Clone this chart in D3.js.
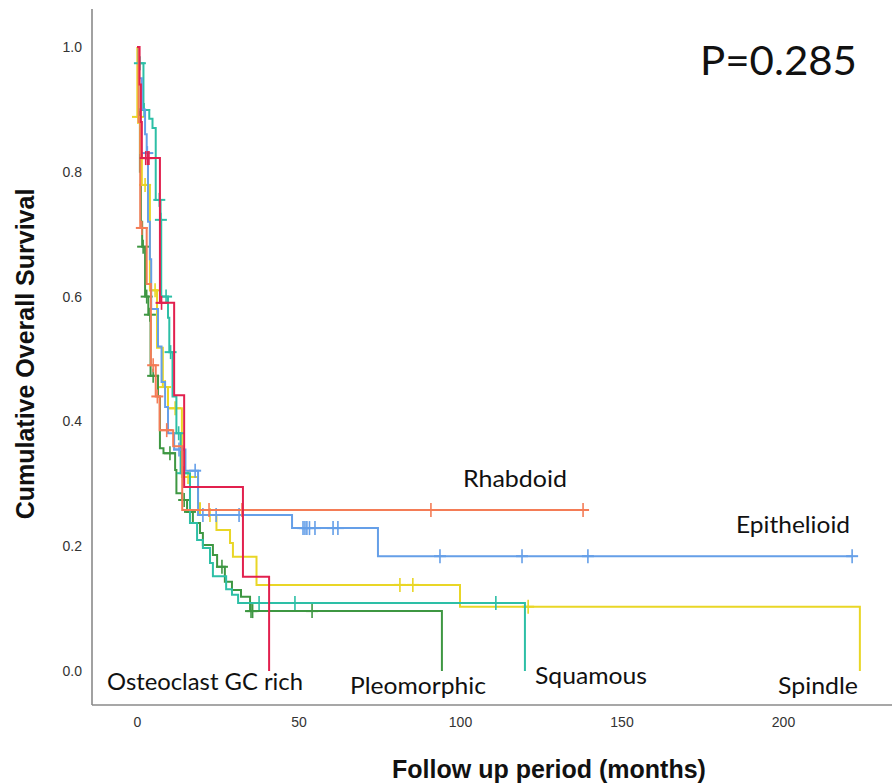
<!DOCTYPE html>
<html>
<head>
<meta charset="utf-8">
<script src="https://cdn.jsdelivr.net/npm/d3@7"></script>
<style>
  body { margin: 0; background: #fff; }
  svg { display: block; }
</style>
</head>
<body>
<svg></svg>
<script>
const svgWidth = 892;
const svgHeight = 784;

// x ticks (months) and y ticks (survival)
const xTicks = [0, 50, 100, 150, 200];
const yTicks = [0, 0.2, 0.4, 0.6, 0.8, 1.0];

// step points [months, survival], plus censored times and last follow-up
const rhabdoidSteps = [[0,1],[0.5,0.88],[1.0,0.71],[3.0,0.62],[4.3,0.49],[5.8,0.44],[7.0,0.386],[11.2,0.36],[14.0,0.258]];
const rhabdoidCensored = [1.5, 5.0, 6.3, 9.2, 22.3, 32.5, 91.0, 138.1];
const rhabdoidEnd = 138.1;

const epithelioidSteps = [[0,1],[0.6,0.95],[1.5,0.90],[2.5,0.86],[3.0,0.83],[3.4,0.72],[4.0,0.66],[4.4,0.58],[6.5,0.52],[7.6,0.463],[8.7,0.423],[9.6,0.381],[11.5,0.355],[15.0,0.321],[18.9,0.25],[48,0.229],[74.6,0.184]];
const epithelioidCensored = [3.2, 13.0, 18.0, 20.4, 24.5, 31.6, 51.4, 52.0, 52.6, 53.4, 55.1, 60.7, 62.2, 93.8, 119.2, 139.6, 221.4];
const epithelioidEnd = 221.4;

const spindleSteps = [[0,1],[0.1,0.888],[1.0,0.83],[1.5,0.779],[4.0,0.61],[6.2,0.518],[8.0,0.455],[9.6,0.421],[13.9,0.311],[18.9,0.269],[19.5,0.25],[24.6,0.226],[28.8,0.205],[29.7,0.183],[37.0,0.138],[100,0.103],[223.8,0]];
const spindleCensored = [0.3, 2.5, 5.6, 8.7, 11.8, 15.8, 22.6, 81.4, 85.4, 121.1];
const spindleEnd = 223.8;

const squamousSteps = [[0,1],[0.5,0.974],[2.0,0.899],[3.8,0.885],[4.8,0.87],[5.8,0.755],[7.3,0.723],[7.5,0.60],[9.6,0.566],[10.0,0.511],[11.0,0.44],[12.2,0.381],[13.5,0.317],[16.4,0.237],[18.6,0.21],[20.4,0.197],[22.6,0.173],[23.5,0.152],[27.6,0.131],[29.4,0.122],[31.3,0.109],[120.1,0]];
const squamousCensored = [0.9, 2.2, 6.9, 7.4, 9.0, 10.4, 12.9, 14.2, 37.8, 48.9, 111.1];
const squamousEnd = 120.1;

const pleomorphicSteps = [[0,1],[0.4,0.90],[0.9,0.80],[1.2,0.72],[1.6,0.68],[2.5,0.60],[3.5,0.571],[4.2,0.473],[6.5,0.44],[7.1,0.357],[8.2,0.349],[11.8,0.322],[12.2,0.285],[14.0,0.274],[15.5,0.255],[17.3,0.237],[19.5,0.221],[20.4,0.202],[23.5,0.186],[24.8,0.167],[27.2,0.143],[29.4,0.13],[32.2,0.119],[35.0,0.096],[94.4,0]];
const pleomorphicCensored = [1.9, 3.0, 4.0, 5.0, 10.2, 14.6, 16.4, 26.3, 35.3, 35.8, 54.2];
const pleomorphicEnd = 94.4;

const osteoclastSteps = [[0,1],[0.8,0.94],[1.2,0.88],[1.5,0.822],[7.1,0.59],[11.5,0.442],[14.6,0.295],[32.8,0.151],[40.9,0]];
const osteoclastCensored = [2.7, 3.3, 3.7, 7.6];
const osteoclastEnd = 40.9;

// group names, colours, drawing order
const groupNames = ["Pleomorphic", "Spindle", "Squamous", "Epithelioid", "Rhabdoid", "Osteoclast GC rich"];
const groupColors = ["#3e9742", "#e9d626", "#2dbfa6", "#659fe8", "#f47c56", "#e2204e"];
const groupSteps = [pleomorphicSteps, spindleSteps, squamousSteps, epithelioidSteps, rhabdoidSteps, osteoclastSteps];
const groupCensored = [pleomorphicCensored, spindleCensored, squamousCensored, epithelioidCensored, rhabdoidCensored, osteoclastCensored];
const groupEnds = [pleomorphicEnd, spindleEnd, squamousEnd, epithelioidEnd, rhabdoidEnd, osteoclastEnd];

const pValue = "P=0.285";

const svg = d3.select("svg")
  .attr("width", svgWidth)
  .attr("height", svgHeight);

const xScale = d3.scaleLinear().domain([0, 200]).range([137, 783]);
const yScale = d3.scaleLinear().domain([0, 1]).range([671, 47]);

const axisX = 92, axisY = 705;

// axes lines
svg.append("line")
  .attr("x1", axisX).attr("x2", axisX)
  .attr("y1", 9).attr("y2", axisY)
  .attr("stroke", "#8a8a8a").attr("stroke-width", 1.6);
svg.append("line")
  .attr("x1", axisX).attr("x2", svgWidth)
  .attr("y1", axisY).attr("y2", axisY)
  .attr("stroke", "#8a8a8a").attr("stroke-width", 1.6);

let yAxis = d3.axisLeft(yScale)
  .tickValues(yTicks)
  .tickFormat(d3.format(".1f"))
  .tickSize(0)
  .tickPadding(10);
let xAxis = d3.axisBottom(xScale)
  .tickValues(xTicks)
  .tickSize(0)
  .tickPadding(12);

let gy = svg.append("g")
  .attr("transform", `translate(${axisX},0)`)
  .call(yAxis);
let gx = svg.append("g")
  .attr("transform", `translate(0,${axisY})`)
  .call(xAxis);
[gx, gy].forEach(g => {
  g.select(".domain").remove();
  g.selectAll("text")
    .attr("font-family", "'Liberation Sans', Arial, sans-serif")
    .attr("font-size", 14)
    .attr("fill", "#333");
});

// axis titles
svg.append("text")
  .text("Follow up period (months)")
  .attr("x", 549)
  .attr("y", 778)
  .attr("text-anchor", "middle")
  .attr("font-family", "'Liberation Sans', Arial, sans-serif")
  .attr("font-weight", "bold")
  .attr("font-size", 25)
  .attr("fill", "#111");
svg.append("text")
  .text("Cumulative Overall Survival")
  .attr("transform", "rotate(-90)")
  .attr("x", -354)
  .attr("y", 34)
  .attr("text-anchor", "middle")
  .attr("font-family", "'Liberation Sans', Arial, sans-serif")
  .attr("font-weight", "bold")
  .attr("font-size", 25)
  .attr("fill", "#111");

function survAt(steps, t) {
  let s = steps[0][1];
  steps.forEach(p => { if (p[0] <= t) s = p[1]; });
  return s;
}

const stepLine = d3.line()
  .x(d => xScale(d[0]))
  .y(d => yScale(d[1]))
  .curve(d3.curveStepAfter);

groupNames.forEach((name, i) => {
  let steps = groupSteps[i];
  let pts = steps.slice();
  let last = pts[pts.length - 1];
  if (last[0] < groupEnds[i]) pts.push([groupEnds[i], last[1]]);
  svg.append("path")
    .datum(pts)
    .attr("d", stepLine)
    .attr("fill", "none")
    .attr("stroke", groupColors[i])
    .attr("stroke-width", 2);

  let marks = svg.append("g").selectAll("g")
    .data(groupCensored[i])
    .enter()
    .append("g")
    .attr("transform", d => `translate(${xScale(d)},${yScale(survAt(steps, d))})`);
  marks.append("line")
    .attr("x1", 0).attr("x2", 0).attr("y1", -7).attr("y2", 7)
    .attr("stroke", groupColors[i]).attr("stroke-width", 1.6);
  marks.append("line")
    .attr("x1", -6).attr("x2", 6).attr("y1", 0).attr("y2", 0)
    .attr("stroke", groupColors[i]).attr("stroke-width", 2);
});

// group labels
const labelNames = ["Rhabdoid", "Epithelioid", "Osteoclast GC rich", "Pleomorphic", "Squamous", "Spindle"];
const labelX = [463, 736, 107, 350, 535, 778];
const labelY = [487, 533, 690, 694, 684, 694];
const labelW = [104, 114, 196, 136, 112, 80];

svg.selectAll(".grouplabel")
  .data(labelNames)
  .enter()
  .append("text")
  .attr("class", "grouplabel")
  .text(d => d)
  .attr("x", (d, i) => labelX[i])
  .attr("y", (d, i) => labelY[i])
  .attr("textLength", (d, i) => labelW[i])
  .attr("lengthAdjust", "spacingAndGlyphs")
  .attr("font-family", "Lato, 'Open Sans', sans-serif")
  .attr("font-size", 24)
  .attr("fill", "#111");

svg.append("text")
  .text(pValue)
  .attr("x", 700)
  .attr("y", 75)
  .attr("textLength", 157)
  .attr("lengthAdjust", "spacingAndGlyphs")
  .attr("font-family", "Lato, 'Open Sans', sans-serif")
  .attr("font-size", 40)
  .attr("fill", "#111");
</script>
</body>
</html>
